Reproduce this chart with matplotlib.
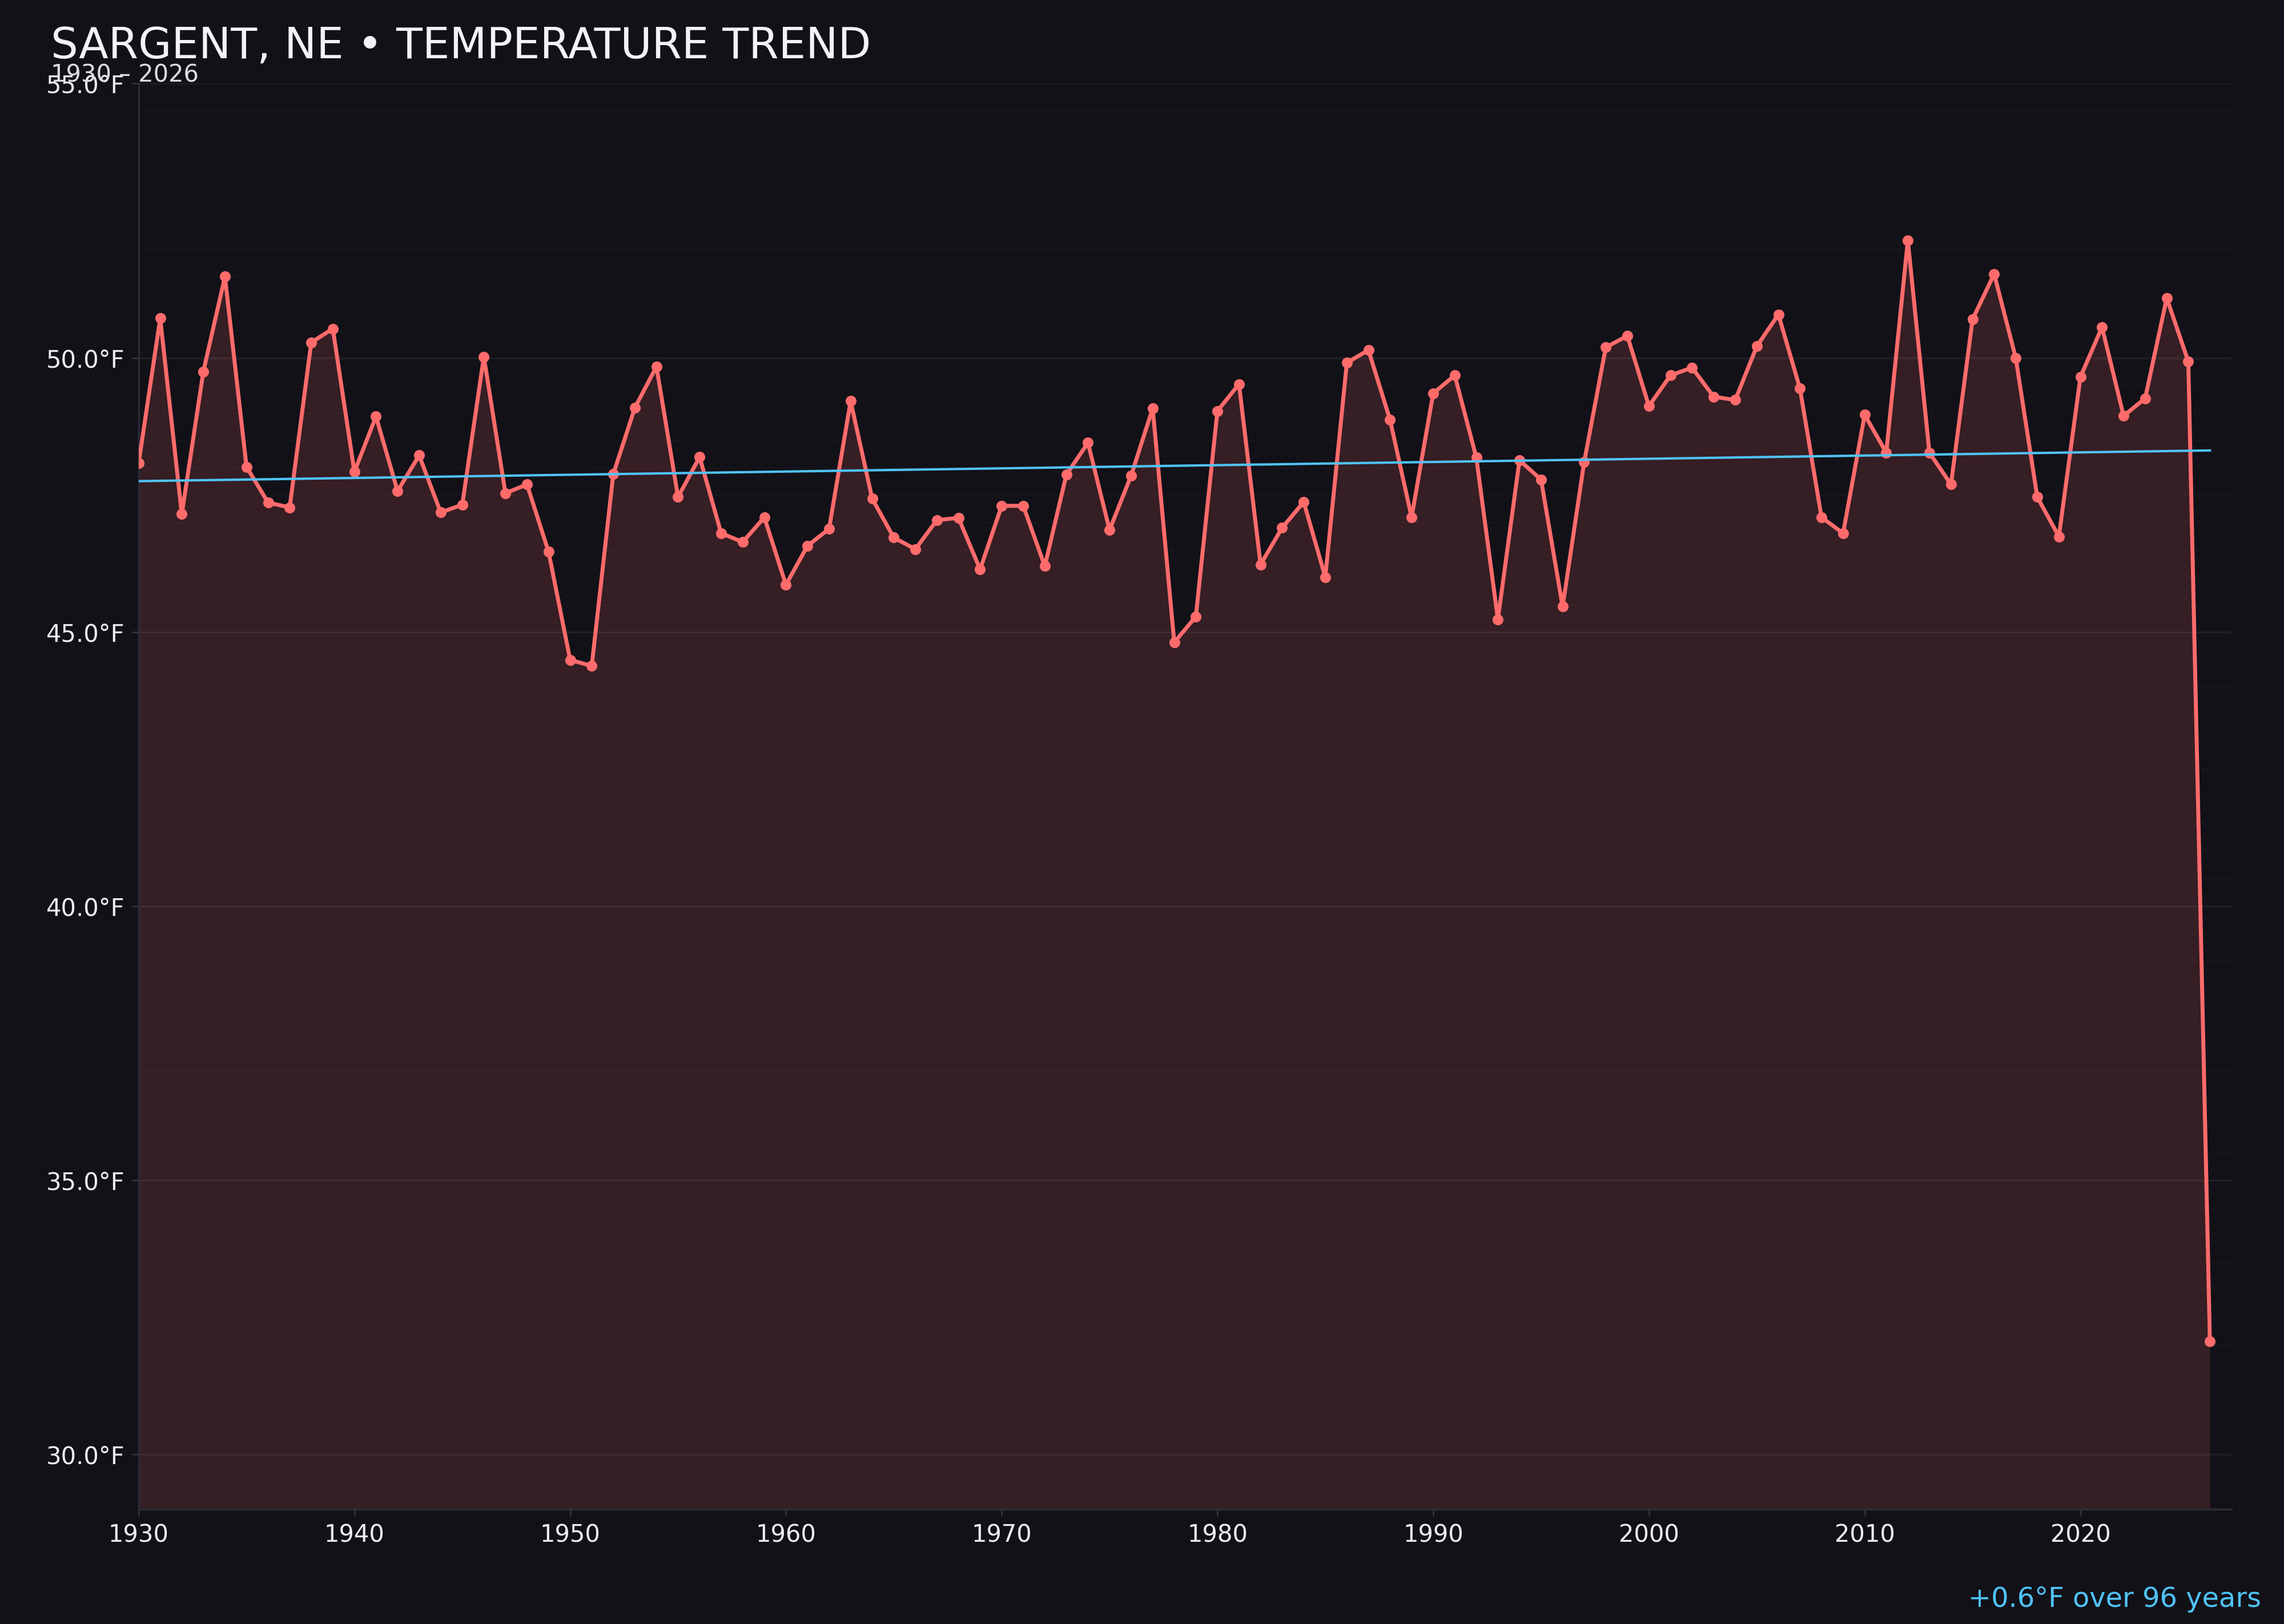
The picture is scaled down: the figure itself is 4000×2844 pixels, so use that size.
import matplotlib.pyplot as plt
import numpy as np
from matplotlib.ticker import MultipleLocator, FuncFormatter

# annual mean temperature, Sargent NE
years = list(range(1930, 2027))
temps = [
    48.08, 50.72, 47.15, 49.75, 51.48, 48.01, 47.36, 47.27, 50.28, 50.53,  # 1930s
    47.92, 48.93, 47.57, 48.22, 47.18, 47.32, 50.02, 47.53, 47.69, 46.46,  # 1940s
    44.49, 44.38, 47.88, 49.09, 49.84, 47.46, 48.19, 46.80, 46.64, 47.09,  # 1950s
    45.86, 46.57, 46.88, 49.21, 47.43, 46.72, 46.51, 47.04, 47.08, 46.14,  # 1960s
    47.30, 47.30, 46.20, 47.87, 48.45, 46.86, 47.85, 49.08, 44.81, 45.28,  # 1970s
    49.03, 49.52, 46.23, 46.90, 47.37, 46.00, 49.91, 50.14, 48.87, 47.09,  # 1980s
    49.35, 49.68, 48.18, 45.23, 48.13, 47.78, 45.46, 48.10, 50.19, 50.40,  # 1990s
    49.12, 49.68, 49.82, 49.29, 49.23, 50.21, 50.79, 49.44, 47.09, 46.80,  # 2000s
    48.96, 48.27, 52.14, 48.27, 47.69, 50.70, 51.53, 50.00, 47.46, 46.74,  # 2010s
    49.65, 50.56, 48.94, 49.26, 51.09, 49.93, 32.06,                       # 2020s
]

# trend line end points
trend_years = [1930, 2026]
trend_vals = [47.75, 48.31]

title = "SARGENT, NE \u2022 TEMPERATURE TREND"
subtitle = "1930 \u2013 2026"
note = "+0.6\u00b0F over 96 years"

bg = '#121118'
red = '#ff6b6b'
blue = '#4fc3f7'

fig = plt.figure(figsize=(16, 11.376), dpi=250, facecolor=bg)
ax = fig.add_axes([0.0607, 0.0707, 0.9163, 0.8778])
ax.set_facecolor(bg)

ymin, ymax = 29, 55
ax.fill_between(years, temps, ymin, color=red, alpha=0.15, linewidth=0, zorder=1)
ax.plot(years, temps, color=red, lw=2.0, marker='o', ms=5.5, mew=0, zorder=3)
ax.plot(trend_years, trend_vals, color=blue, lw=1.2, zorder=4)

ax.set_xlim(1930, 2027)
ax.set_ylim(ymin, ymax)
ax.set_xticks(range(1930, 2021, 10))
ax.yaxis.set_major_locator(MultipleLocator(5))
ax.yaxis.set_minor_locator(MultipleLocator(0.5))
ax.yaxis.set_major_formatter(FuncFormatter(lambda v, p: f"{v:.1f}\u00b0F"))

ax.grid(axis='y', which='major', color='white', alpha=0.06, lw=1.0)
ax.grid(axis='y', which='minor', color='white', alpha=0.02, lw=0.8)
ax.tick_params(which='major', colors='#34333d', labelcolor='#ececf2', labelsize=12,
               length=3.5, width=0.8)
ax.tick_params(which='minor', length=0)

for s in ['top', 'right']:
    ax.spines[s].set_visible(False)
for s in ['left', 'bottom']:
    ax.spines[s].set_color('#2c2b35')
    ax.spines[s].set_linewidth(1.0)

fig.text(0.0223, 0.9641, title, color='#f2f2f7', fontsize=21.7, va='baseline', ha='left')
fig.text(0.0223, 0.9497, subtitle, color='#dcdce4', fontsize=12, va='baseline', ha='left')
fig.text(0.990, 0.0105, note, color=blue, fontsize=13.8, va='baseline', ha='right')

fig.savefig('out.png', dpi=250, facecolor=bg)
